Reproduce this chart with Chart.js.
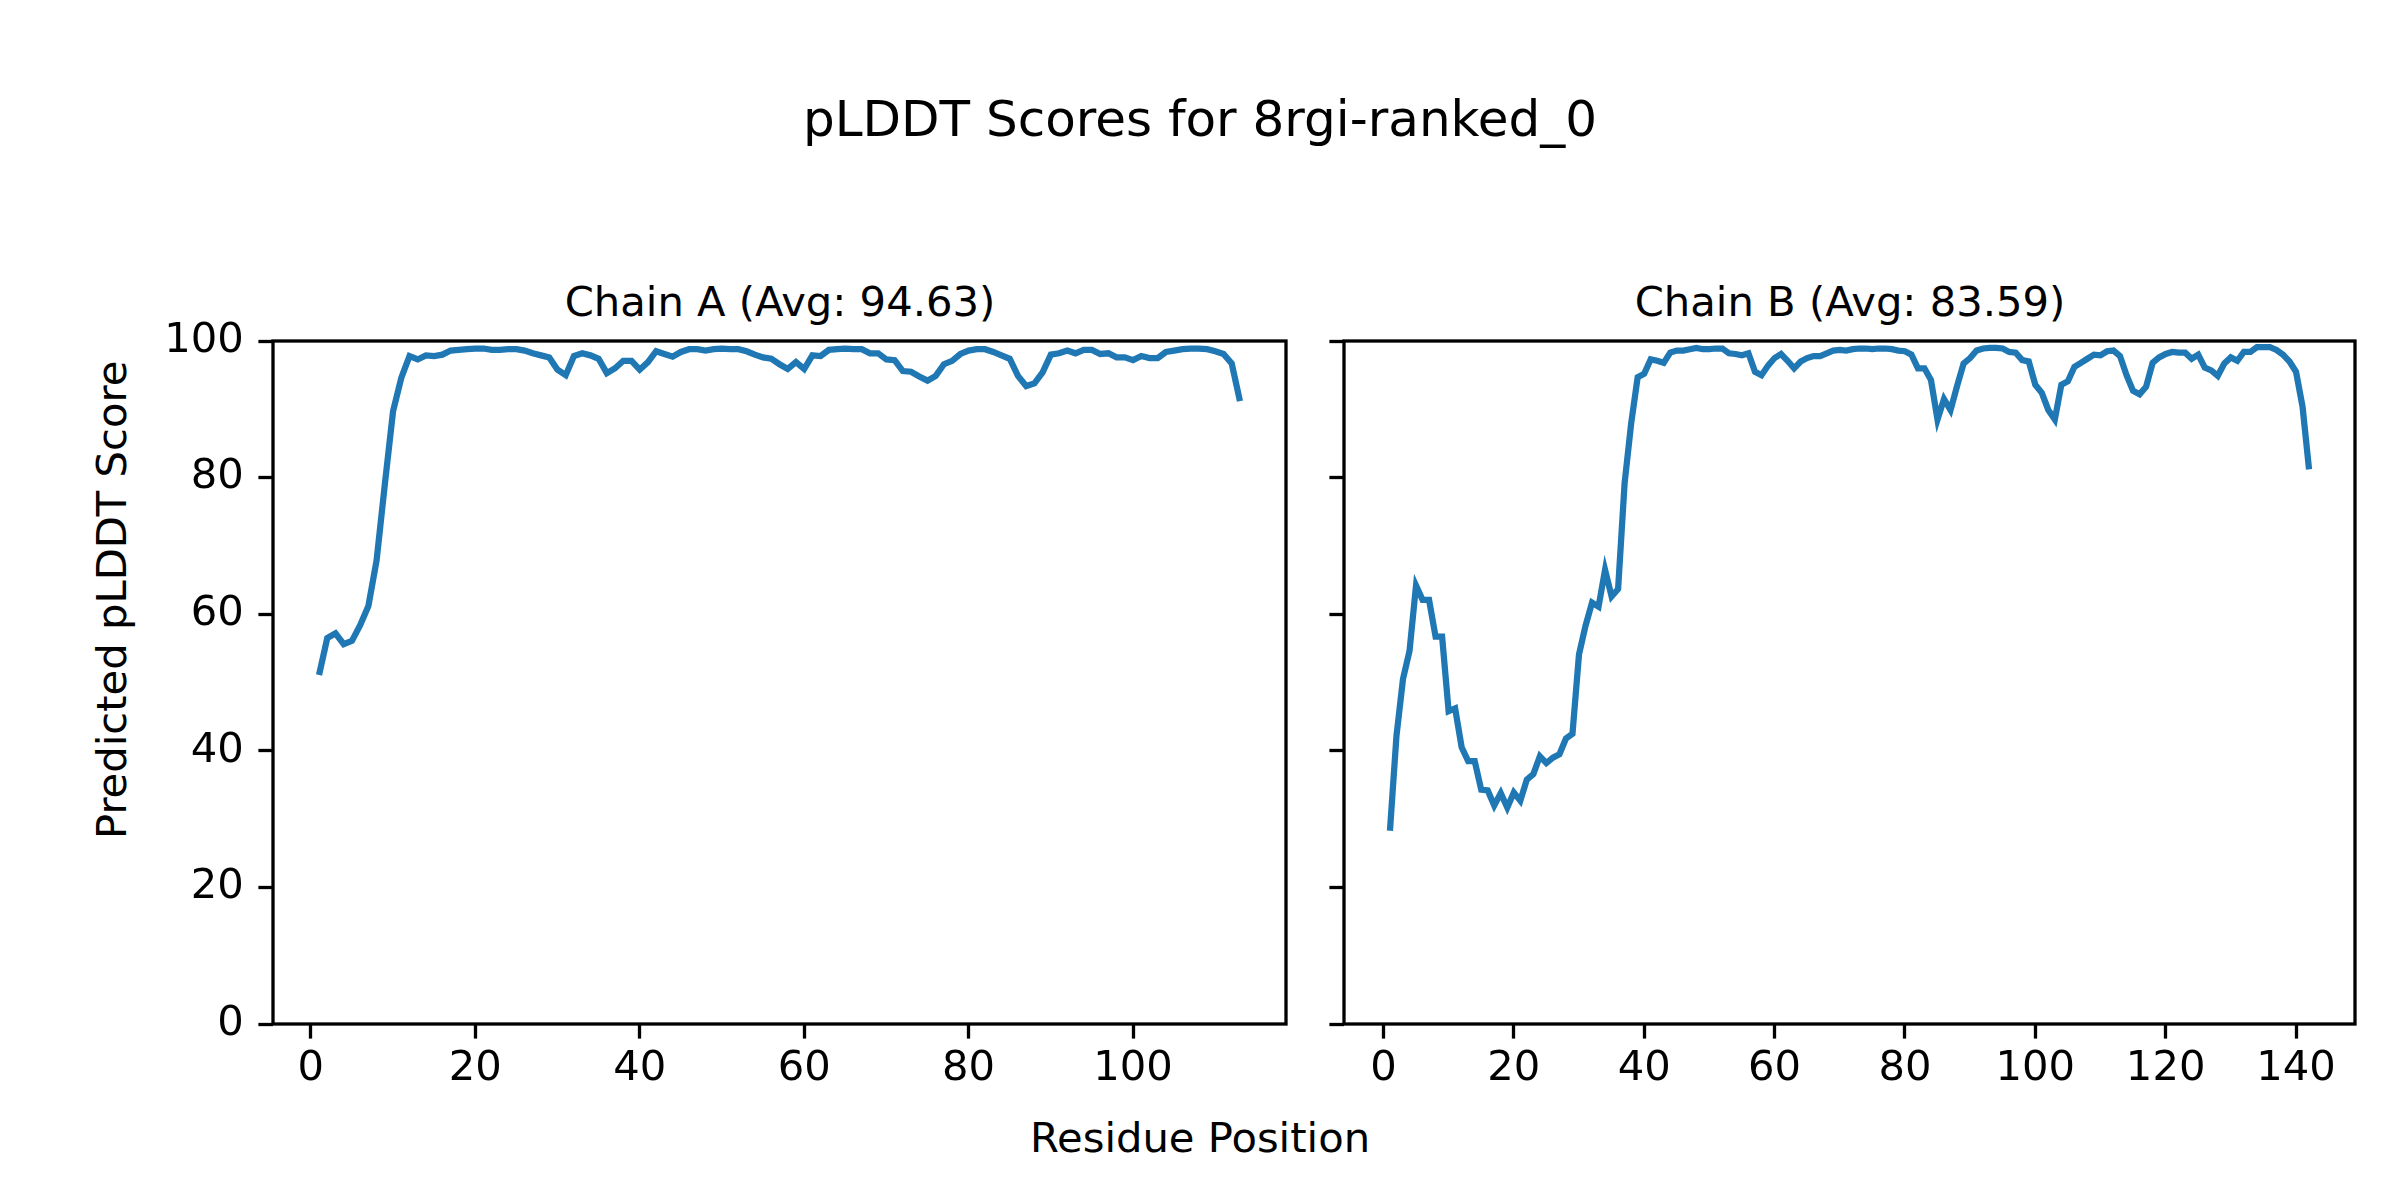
<!DOCTYPE html>
<html>
<head>
<meta charset="utf-8">
<script src="https://cdn.jsdelivr.net/npm/chart.js@4.4.1/dist/chart.umd.min.js"></script>
<style>
html, body { margin: 0; padding: 0; background: #fff; }
#fig { position: relative; width: 2400px; height: 1200px; overflow: hidden; font-family: 'DejaVu Sans', sans-serif; color: #000; }
.txt { position: absolute; white-space: nowrap; text-align: center; }
canvas { position: absolute; }
</style>
</head>
<body>
<div id="fig">
  <div class="txt" style="left:0;width:2400px;top:94px;font-size:50px;line-height:50px;">pLDDT Scores for 8rgi-ranked_0</div>
  <div class="txt" style="left:380px;width:800px;top:281px;font-size:41.7px;line-height:41.7px;">Chain A (Avg: 94.63)</div>
  <div class="txt" style="left:1450px;width:800px;top:281px;font-size:41.7px;line-height:41.7px;">Chain B (Avg: 83.59)</div>
  <div class="txt" style="left:800px;width:800px;top:1117px;font-size:41.7px;line-height:41.7px;">Residue Position</div>
  <div class="txt" style="left:-288px;width:800px;top:579px;font-size:41.7px;line-height:41.7px;transform:rotate(-90deg);">Predicted pLDDT Score</div>
  <canvas id="chainA" width="1166" height="794" style="left:140px;top:316px;"></canvas>
  <canvas id="chainB" width="1071" height="794" style="left:1304px;top:316px;"></canvas>
</div>
<script>
// tick labels
const scoreTicks = [0, 20, 40, 60, 80, 100];
const residueTicksA = [0, 20, 40, 60, 80, 100];
const residueTicksB = [0, 20, 40, 60, 80, 100, 120, 140];

// pLDDT per residue, chain A (residues 1..113)
const scoresA = [
  51.1, 56.5, 57.2, 55.6, 56.1, 58.4, 61.2, 67.9, 79.0, 89.7,
  94.6, 97.8, 97.3, 97.9, 97.8, 98.0, 98.6, 98.7, 98.8, 98.9,
  98.9, 98.7, 98.7, 98.8, 98.8, 98.6, 98.2, 97.9, 97.6, 95.8,
  95.0, 97.8, 98.2, 97.9, 97.4, 95.3, 96.0, 97.1, 97.1, 95.8,
  96.9, 98.5, 98.1, 97.7, 98.4, 98.8, 98.8, 98.6, 98.8, 98.9,
  98.8, 98.8, 98.5, 98.0, 97.6, 97.4, 96.6, 95.9, 96.9, 95.9,
  97.9, 97.8, 98.7, 98.8, 98.9, 98.8, 98.8, 98.2, 98.2, 97.3,
  97.2, 95.6, 95.5, 94.8, 94.2, 94.9, 96.6, 97.1, 98.1, 98.6,
  98.8, 98.8, 98.4, 97.9, 97.4, 94.9, 93.4, 93.8, 95.4, 98.0,
  98.2, 98.6, 98.2, 98.7, 98.7, 98.1, 98.2, 97.6, 97.6, 97.2,
  97.8, 97.5, 97.5, 98.4, 98.6, 98.8, 98.9, 98.9, 98.8, 98.5,
  98.1, 96.7, 91.2
];

// pLDDT per residue, chain B (residues 1..142)
const scoresB = [
  28.3, 42.2, 50.5, 54.6, 64.2, 62.1, 62.1, 56.7, 56.7, 45.8,
  46.2, 40.5, 38.5, 38.5, 34.3, 34.2, 32.0, 33.8, 31.7, 33.9,
  32.7, 35.8, 36.6, 39.2, 38.2, 39.0, 39.5, 41.8, 42.5, 54.1,
  58.3, 61.7, 61.1, 66.5, 62.6, 63.7, 79.2, 87.9, 94.7, 95.2,
  97.3, 97.1, 96.8, 98.3, 98.6, 98.6, 98.8, 99.0, 98.8, 98.8,
  98.9, 98.9, 98.2, 98.1, 97.9, 98.2, 95.5, 95.0, 96.4, 97.5,
  98.1, 97.1, 96.0, 97.0, 97.5, 97.8, 97.8, 98.2, 98.6, 98.7,
  98.6, 98.8, 98.9, 98.9, 98.8, 98.9, 98.9, 98.8, 98.6, 98.5,
  98.0, 96.0, 96.0, 94.3, 88.5, 91.5, 89.9, 93.4, 96.7, 97.5,
  98.6, 98.9, 99.0, 99.0, 98.9, 98.4, 98.3, 97.2, 97.0, 93.6,
  92.4, 89.9, 88.5, 93.6, 94.1, 96.2, 96.8, 97.4, 98.0, 97.9,
  98.5, 98.6, 97.8, 95.0, 92.7, 92.2, 93.3, 96.8, 97.6, 98.1,
  98.4, 98.3, 98.3, 97.4, 98.0, 96.1, 95.7, 94.9, 96.7, 97.6,
  97.1, 98.4, 98.4, 99.1, 99.1, 99.1, 98.7, 98.0, 97.0, 95.5,
  90.4, 81.2
];

const LW = 3.3;      // spine / tick width
const TICK = 14.6;   // tick length
const FONT = { family: 'DejaVu Sans', size: 41.7 };

// draw the axes box on top of the line like matplotlib spines
const frame = {
    id: 'frame',
    afterDatasetsDraw(chart) {
        const { ctx, chartArea: a } = chart;
        ctx.save();
        ctx.strokeStyle = '#000';
        ctx.lineWidth = LW;
        ctx.strokeRect(a.left, a.top, a.right - a.left, a.bottom - a.top);
        ctx.restore();
    }
};

function makeChart(id, scores, xTicks, yAxisWidth, showYLabels) {
    const pts = scores.map((v, i) => ({ x: i + 1, y: v }));
    const n = scores.length;
    const margin = (n - 1) * 0.05;
    const ctx = document.getElementById(id).getContext('2d');
    return new Chart(ctx, {
        type: 'line',
        data: {
            datasets: [{
                data: pts,
                borderColor: '#1f77b4',
                borderWidth: 6.25,
                pointRadius: 0,
                tension: 0,
                fill: false
            }]
        },
        options: {
            responsive: false,
            animation: false,
            events: [],
            layout: { padding: { top: 25, right: 20, left: 0, bottom: 0 } },
            plugins: {
                legend: { display: false },
                tooltip: { enabled: false },
                title: { display: false }
            },
            scales: {
                x: {
                    type: 'linear',
                    min: 1 - margin,
                    max: n + margin,
                    afterBuildTicks: s => { s.ticks = xTicks.map(v => ({ value: v })); },
                    afterFit: s => { s.height = 86; s.paddingLeft = 0; s.paddingRight = 0; },
                    border: { display: false },
                    grid: {
                        drawOnChartArea: false, drawTicks: true,
                        tickLength: TICK, tickWidth: LW, tickColor: '#000'
                    },
                    ticks: {
                        color: '#000', font: FONT, padding: 6,
                        autoSkip: false, maxRotation: 0,
                        callback: v => String(v)
                    }
                },
                y: {
                    min: 0,
                    max: 100,
                    afterBuildTicks: s => { s.ticks = scoreTicks.map(v => ({ value: v })); },
                    afterFit: s => { s.width = yAxisWidth; s.paddingTop = 0; s.paddingBottom = 0; },
                    border: { display: false },
                    grid: {
                        drawOnChartArea: false, drawTicks: true,
                        tickLength: TICK, tickWidth: LW, tickColor: '#000'
                    },
                    ticks: {
                        display: showYLabels,
                        color: '#000', font: FONT, padding: TICK,
                        callback: v => String(v)
                    }
                }
            }
        },
        plugins: [frame]
    });
}

makeChart('chainA', scoresA, residueTicksA, 133, true);
makeChart('chainB', scoresB, residueTicksB, 40, false);
</script>
</body>
</html>
